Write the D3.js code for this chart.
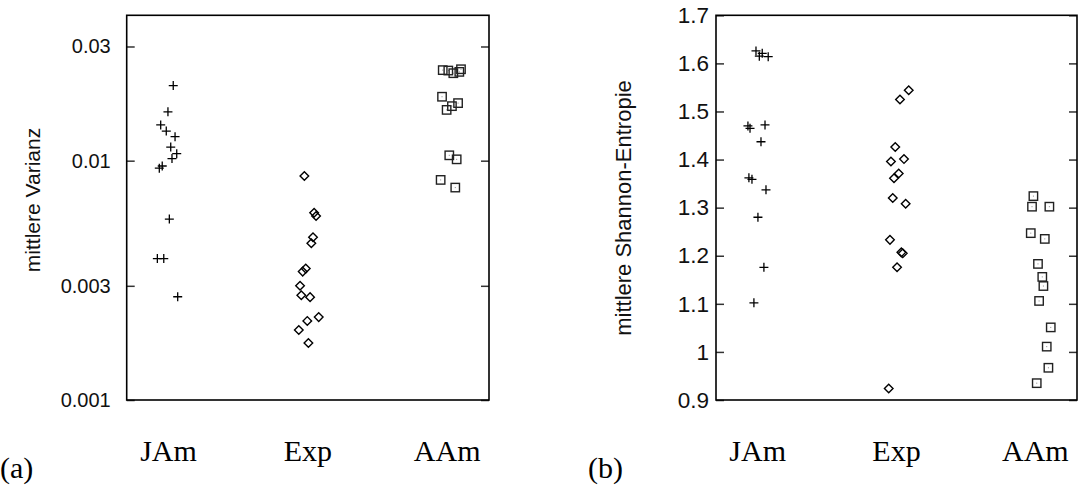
<!DOCTYPE html>
<html>
<head>
<meta charset="utf-8">
<script src="https://cdn.jsdelivr.net/npm/d3@7"></script>
<style>
  body { margin: 0; background: #fff; }
  svg { display: block; }
</style>
</head>
<body>
<svg id="svg1" width="1079" height="491"></svg>
<script>
// Kategorien
var categories = ["JAm", "Exp", "AAm"];
var catPos = [1, 2, 3];

// (a) mittlere Varianz (log)
var varJAm    = [0.0206, 0.0160, 0.0141, 0.0133, 0.0126, 0.0114, 0.0107, 0.0102, 0.0095, 0.0093, 0.0057, 0.0039, 0.0039, 0.0027];
var varJAmPos = [1.034, 0.996, 0.944, 0.984, 1.047, 1.016, 1.059, 1.025, 0.955, 0.934, 1.006, 0.920, 0.966, 1.066];
var varExp    = [0.00863, 0.00606, 0.00587, 0.00479, 0.00452, 0.00354, 0.00344, 0.00300, 0.00274, 0.00269, 0.00222, 0.00214, 0.00196, 0.00173];
var varExpPos = [1.975, 2.045, 2.059, 2.037, 2.025, 1.985, 1.963, 1.944, 1.953, 2.016, 2.078, 1.996, 1.935, 2.004];
var varAAm    = [0.0239, 0.0238, 0.0232, 0.0235, 0.0241, 0.0185, 0.0169, 0.0163, 0.0174, 0.01053, 0.01013, 0.00831, 0.00772];
var varAAmPos = [2.968, 3.008, 3.044, 3.087, 3.099, 2.963, 3.034, 2.996, 3.078, 3.015, 3.068, 2.953, 3.058];
var varTicks  = [0.001, 0.003, 0.01, 0.03];
var varLabels = ["0.001", "0.003", "0.01", "0.03"];

// (b) mittlere Shannon-Entropie
var entJAm    = [1.626, 1.621, 1.615, 1.614, 1.470, 1.465, 1.472, 1.437, 1.362, 1.359, 1.337, 1.280, 1.176, 1.102];
var entJAmPos = [0.988, 1.033, 1.012, 1.076, 0.930, 0.945, 1.053, 1.024, 0.937, 0.959, 1.060, 1.002, 1.045, 0.973];
var entExp    = [1.544, 1.525, 1.426, 1.396, 1.401, 1.371, 1.361, 1.320, 1.308, 1.233, 1.207, 1.205, 1.176, 0.924];
var entExpPos = [2.088, 2.025, 1.991, 1.960, 2.054, 2.016, 1.982, 1.973, 2.066, 1.953, 2.035, 2.045, 2.004, 1.944];
var entAAm    = [1.324, 1.302, 1.302, 1.247, 1.235, 1.183, 1.156, 1.137, 1.106, 1.051, 1.011, 0.967, 0.935];
var entAAmPos = [2.986, 2.976, 3.101, 2.967, 3.068, 3.019, 3.050, 3.058, 3.027, 3.111, 3.082, 3.094, 3.010];
var entTicks  = [0.9, 1.0, 1.1, 1.2, 1.3, 1.4, 1.5, 1.6, 1.7];
var entLabels = ["0.9", "1", "1.1", "1.2", "1.3", "1.4", "1.5", "1.6", "1.7"];

var svg = d3.select("#svg1");
var sansFont = "'Liberation Sans', Arial, sans-serif";
var serifFont = "'Liberation Serif', 'DejaVu Serif', serif";

function zip(xs, ys) {
  return ys.map(function(v, i) { return {x: xs[i], y: v}; });
}

function marker(g, shape, pts, scaleX, scaleY) {
  var sel = g.selectAll(null).data(pts).enter().append("g")
    .attr("transform", function(d) { return "translate(" + scaleX(d.x) + "," + scaleY(d.y) + ")"; });
  if (shape == "plus") {
    sel.append("path").attr("d", "M-4.5,0H4.5M0,-4.5V4.5")
      .attr("stroke", "#000").attr("stroke-width", 1.3).attr("fill", "none");
  } else if (shape == "diamond") {
    sel.append("path").attr("d", "M0,-4.3L4.3,0L0,4.3L-4.3,0Z")
      .attr("stroke", "#000").attr("stroke-width", 1.4).attr("fill", "none");
  } else {
    sel.append("rect").attr("x", -4.2).attr("y", -4.2).attr("width", 8.4).attr("height", 8.4)
      .attr("stroke", "#222").attr("stroke-width", 1.4).attr("fill", "none");
    sel.append("rect").attr("x", -0.5).attr("y", -0.5).attr("width", 1).attr("height", 1)
      .attr("fill", "#888");
  }
}

function panel(opt) {
  var gContainer = svg.append("g");

  var scaleX = d3.scaleLinear().domain([0.7, 3.3]).range([opt.left, opt.right]);
  var scaleY = opt.log ? d3.scaleLog() : d3.scaleLinear();
  scaleY.domain(opt.domain).range([400, 15.3]);

  // Achse links mit Beschriftung, Ticks nach innen
  var axisY = d3.axisLeft(scaleY).tickValues(opt.ticks)
    .tickFormat(function(d, i) { return opt.labels[i]; })
    .tickSizeInner(-8).tickSizeOuter(0).tickPadding(opt.pad);
  var gAxisY = gContainer.append("g").attr("transform", "translate(" + opt.left + ",0)").call(axisY);
  gAxisY.select(".domain").remove();
  gAxisY.selectAll("line").attr("stroke", "#333").attr("stroke-width", 1.5);
  gAxisY.selectAll("text").attr("font-family", sansFont).attr("font-size", opt.fs).attr("fill", "#111");

  // gespiegelte Ticks rechts
  var axisY2 = d3.axisRight(scaleY).tickValues(opt.ticks).tickFormat("")
    .tickSizeInner(-8).tickSizeOuter(0);
  var gAxisY2 = gContainer.append("g").attr("transform", "translate(" + opt.right + ",0)").call(axisY2);
  gAxisY2.select(".domain").remove();
  gAxisY2.selectAll("line").attr("stroke", "#333").attr("stroke-width", 1.5);

  // Rahmen
  gContainer.append("rect")
    .attr("x", opt.left).attr("y", 15.3)
    .attr("width", opt.right - opt.left).attr("height", 400 - 15.3)
    .attr("fill", "none").attr("stroke", "#000").attr("stroke-width", 1.6);

  // Achsentitel
  gContainer.append("text")
    .attr("transform", "translate(" + opt.titleX + "," + opt.titleY + ") rotate(-90)")
    .attr("text-anchor", "middle")
    .attr("font-family", sansFont).attr("font-size", opt.tfs).attr("fill", "#111")
    .text(opt.title);

  // Kategorien
  gContainer.selectAll(null).data(categories).enter().append("text")
    .attr("x", function(d, i) { return scaleX(catPos[i]); })
    .attr("y", 461)
    .attr("text-anchor", "middle")
    .attr("font-family", serifFont).attr("font-size", 30).attr("fill", "#000")
    .text(function(d) { return d; });

  gContainer.append("text")
    .attr("x", opt.tagX).attr("y", 478)
    .attr("font-family", serifFont).attr("font-size", 30).attr("fill", "#000")
    .text(opt.tag);

  var gPts = gContainer.append("g");
  marker(gPts, "plus", zip(opt.pos[0], opt.vals[0]), scaleX, scaleY);
  marker(gPts, "diamond", zip(opt.pos[1], opt.vals[1]), scaleX, scaleY);
  marker(gPts, "square", zip(opt.pos[2], opt.vals[2]), scaleX, scaleY);
}

panel({
  left: 126.7, right: 489, log: true, domain: [0.001, 0.0405],
  ticks: varTicks, labels: varLabels, pad: 16, fs: 20, tfs: 21,
  title: "mittlere Varianz", titleX: 40, titleY: 200,
  tag: "(a)", tagX: 0,
  vals: [varJAm, varExp, varAAm], pos: [varJAmPos, varExpPos, varAAmPos]
});

panel({
  left: 716, right: 1077, log: false, domain: [0.9, 1.7],
  ticks: entTicks, labels: entLabels, pad: 7, fs: 22.5, tfs: 22,
  title: "mittlere Shannon-Entropie", titleX: 631, titleY: 208,
  tag: "(b)", tagX: 588,
  vals: [entJAm, entExp, entAAm], pos: [entJAmPos, entExpPos, entAAmPos]
});
</script>
</body>
</html>
